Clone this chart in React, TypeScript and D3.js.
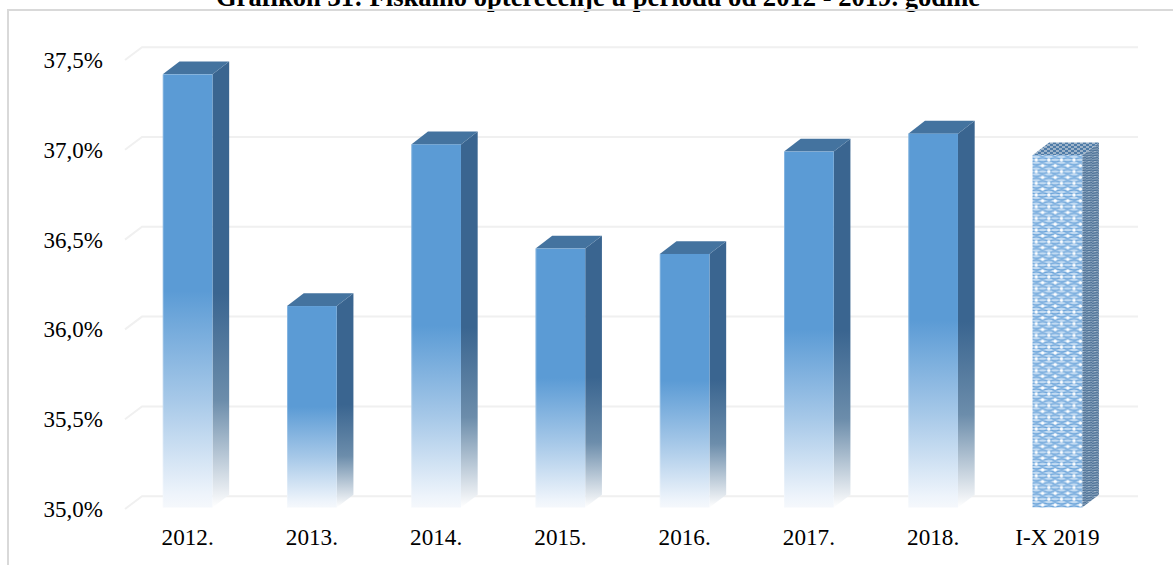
import React from "react";
import * as d3 from "d3";

const categories = ["2012.", "2013.", "2014.", "2015.", "2016.", "2017.", "2018.", "I-X 2019"];
const values = [37.42, 36.13, 37.03, 36.45, 36.42, 36.99, 37.09, 36.97];
const patternedCategories = ["I-X 2019"];
const yTicks = [35, 35.5, 36, 36.5, 37, 37.5];
const title = "Grafikon 31: Fiskalno opterećenje u periodu od 2012 - 2019. godine";

const W = 1173, H = 565;
const FONT = "'Liberation Serif', 'Times New Roman', serif";
const x = d3.scaleBand<string>().domain(categories).range([125.5, 1119.5]).paddingInner(0.6).paddingOuter(0.3);
const y = d3.scaleLinear().domain([35, 37.5]).range([509, 60]);
const DX = 16.7, DY = 12.8;
const fmt = (v: number) => v.toFixed(1).replace(".", ",") + "%";

export default function App() {
  const bw = x.bandwidth();
  const bottom = y(35) - 1.5;
  const hatchX = x("I-X 2019")! + 6.9;
  return (
    <svg width={W} height={H} viewBox={`0 0 ${W} ${H}`} style={{ position: "absolute", left: 0, top: 0, display: "block", background: "#fff" }}>
      <defs>
        <linearGradient id="front" x1="0" y1="0" x2="0" y2="1">
          <stop offset="0" stopColor="#5b9bd5" />
          <stop offset="0.5" stopColor="#5b9bd5" />
          <stop offset="0.75" stopColor="#a6c8e8" />
          <stop offset="0.97" stopColor="#eef4fb" />
          <stop offset="1" stopColor="#f5f8fc" />
        </linearGradient>
        <linearGradient id="side" x1="0" y1="0" x2="0" y2="1">
          <stop offset="0" stopColor="#3a6590" />
          <stop offset="0.52" stopColor="#3a6590" />
          <stop offset="0.76" stopColor="#6c8dab" />
          <stop offset="0.96" stopColor="#e6ebf0" />
          <stop offset="1" stopColor="#ffffff" />
        </linearGradient>
        <pattern id="hatchFront" width="12.6" height="11.7" patternUnits="userSpaceOnUse" x={hatchX} y="162.8">
          <rect width="12.6" height="11.7" fill="#c3dbf2" />
          {d3.range(0, 11.7, 2.925).map((v, i) => (
            <path key={i} d={`M0 ${v + 1.4} q3.15 ${i % 2 ? 1.1 : -1.1} 6.3 0 t6.3 0`} fill="none" stroke="#68a2d9" strokeWidth="1.3" />
          ))}
          <circle cx="3.15" cy="2.93" r="1.7" fill="#fff" />
          <circle cx="9.45" cy="8.78" r="1.7" fill="#fff" />
        </pattern>
        <pattern id="hatchSide" width="6" height="5" patternUnits="userSpaceOnUse">
          <rect width="6" height="5" fill="#7f9ab5" />
          <path d="M0 1 l6 -1 M0 3.5 l6 -1 M0 6 l6 -1" stroke="#4a7097" strokeWidth="1" />
          <circle cx="3" cy="1.5" r="0.6" fill="#c6d3df" />
        </pattern>
        <pattern id="hatchTop" width="6" height="4" patternUnits="userSpaceOnUse">
          <rect width="6" height="4" fill="#9db3c9" />
          <path d="M0 0 h3 v2 h-3z M3 2 h3 v2 h-3z" fill="#4f7ca8" />
        </pattern>
      </defs>

      <text x={598} y={5.5} textAnchor="middle" fontFamily={FONT} fontWeight="bold" fontSize={26.6} fill="#000">{title}</text>
      <path d="M8 565 V10 H1173" fill="none" stroke="#d9d9d9" strokeWidth={2} />

      {yTicks.map((t) => (
        <g key={t}>
          <path
            d={`M125 ${y(t)} L${125 + 17} ${y(t) - DY} H1138`}
            fill="none"
            stroke="#f0f0f0"
            strokeWidth={2}
          />
          <text x={103} y={y(t) + 8} textAnchor="end" fontFamily={FONT} fontSize={23} fill="#000">{fmt(t)}</text>
        </g>
      ))}

      {categories.map((c, i) => {
        const x0 = x(c)!;
        const top = y(values[i]);
        const patterned = patternedCategories.includes(c);
        return (
          <g key={c}>
            <path
              d={`M${x0 + bw} ${top} l${DX} ${-DY} V${bottom - DY} L${x0 + bw} ${bottom}Z`}
              fill={patterned ? "url(#hatchSide)" : "url(#side)"}
            />
            <path
              d={`M${x0} ${top} l${DX} ${-DY} h${bw} l${-DX} ${DY}Z`}
              fill={patterned ? "url(#hatchTop)" : "#44739f"}
            />
            <rect
              x={x0}
              y={top}
              width={bw}
              height={bottom - top}
              fill={patterned ? "url(#hatchFront)" : "url(#front)"}
            />
            {!patterned && (
              <rect x={x0} y={top} width={1} height={bottom - top} fill="#fff" opacity={0.25} />
            )}
            <text x={x0 + bw / 2} y={545} textAnchor="middle" fontFamily={FONT} fontSize={23.2} fill="#000">{c}</text>
          </g>
        );
      })}
    </svg>
  );
}
